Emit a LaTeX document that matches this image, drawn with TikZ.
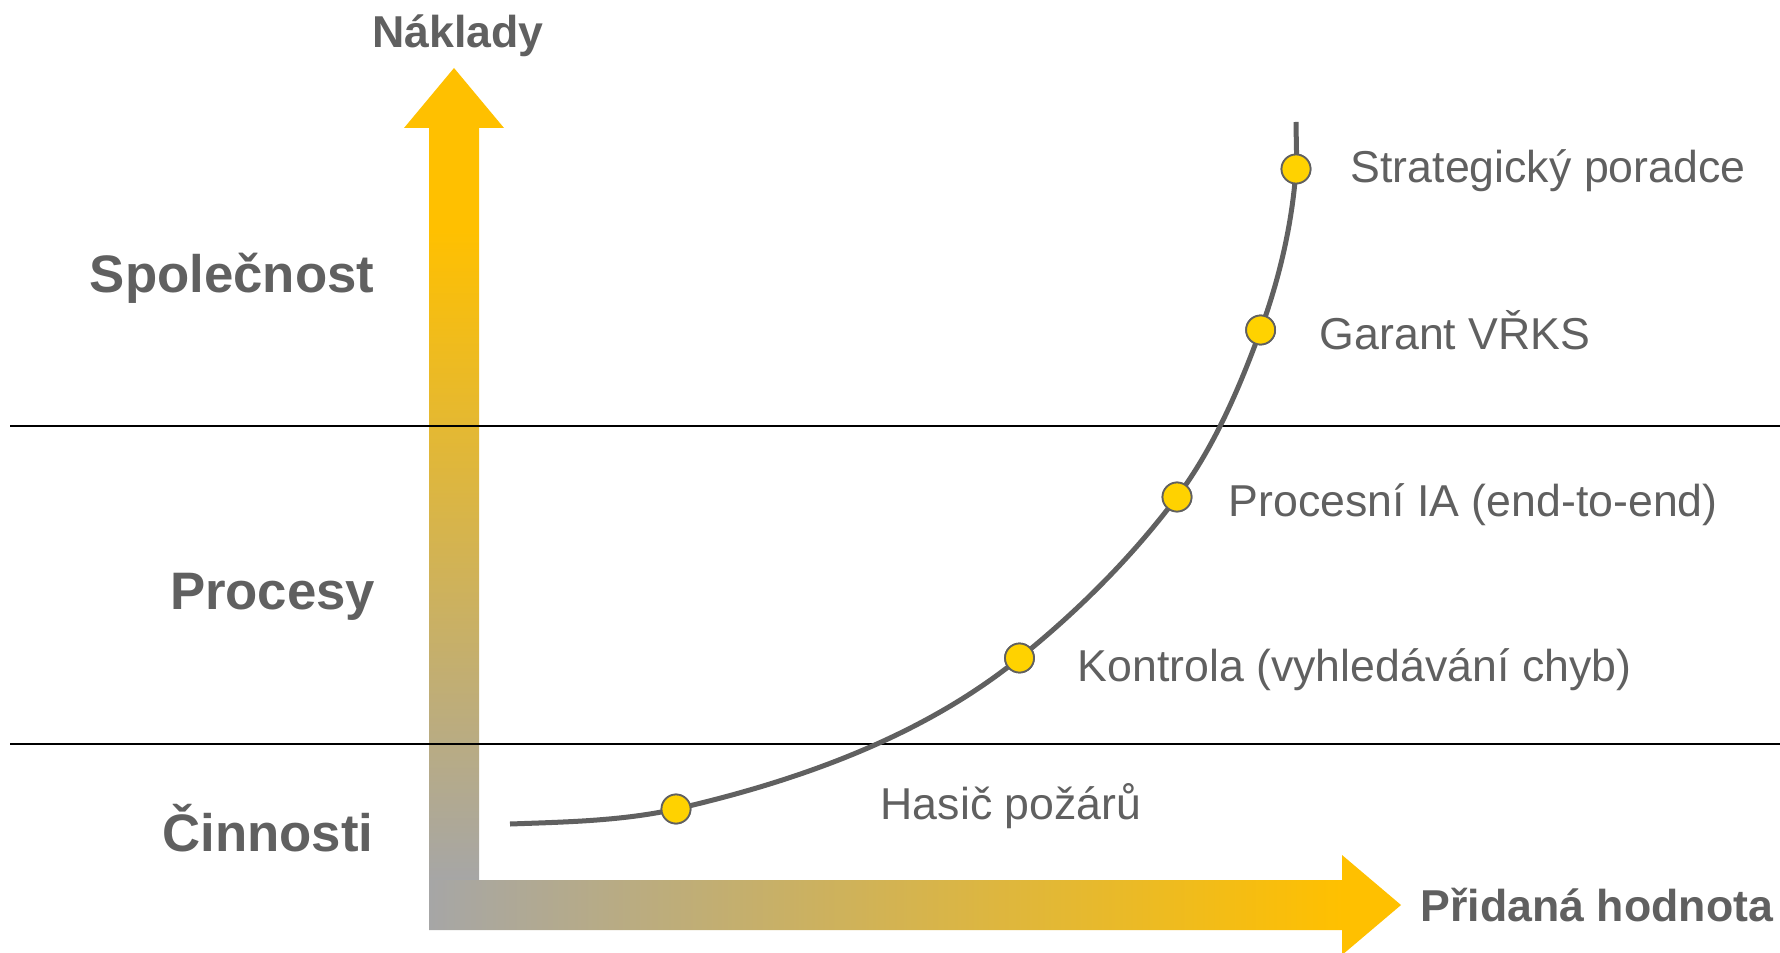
\documentclass[tikz,border=0pt]{standalone}
\usepackage{fontspec}
\setmainfont{Liberation Sans}
\usetikzlibrary{positioning}
\definecolor{axisyellow}{HTML}{FFC000}
\definecolor{axisgray}{HTML}{A6A6A6}
\definecolor{dotyellow}{HTML}{FFD200}
\definecolor{textgray}{HTML}{606060}
\pgfdeclareverticalshading{nakladyshade}{100bp}{color(0bp)=(axisgray); color(25bp)=(axisgray); color(65bp)=(axisyellow); color(100bp)=(axisyellow)}
\pgfdeclarehorizontalshading{hodnotashade}{100bp}{color(0bp)=(axisgray); color(25bp)=(axisgray); color(72bp)=(axisyellow); color(100bp)=(axisyellow)}
\tikzset{
  axislabel/.style={font=\bfseries\fontsize{12.7pt}{15pt}\selectfont, text=textgray, inner sep=0pt},
  levellabel/.style={font=\bfseries\fontsize{15pt}{18pt}\selectfont, text=textgray, inner sep=0pt, anchor=base east},
  rolelabel/.style={font=\fontsize{12.7pt}{15pt}\selectfont, text=textgray, inner sep=0pt, anchor=base west},
  roledot/.style={circle, draw=textgray, line width=0.5pt, fill=dotyellow, minimum size=0.29cm, inner sep=0pt},
  levelline/.style={line width=0.02cm},
  costcurve/.style={draw=textgray, line width=0.05cm},
}
\begin{document}
\begin{tikzpicture}[x=0.01cm, y=-0.01cm]
            \useasboundingbox (0,0) rectangle (1780,952);%

            % Axis Naklady (up)
            \shade [shading=nakladyshade] (429,880) -- (429,128) -- (404,128) -- (454,68) -- (504,128) -- (479,128) -- (479,880) -- cycle;%
            \node [axislabel, anchor=base] (naklady) at (458,48) {Náklady};%

            % Axis Pridana hodnota (right)
            \shade [shading=hodnotashade] (429,880) -- (1342,880) -- (1342,855) -- (1401,905) -- (1342,955) -- (1342,930) -- (429,930) -- cycle;%
            \node [axislabel, anchor=base west] (hodnota) at (1420,921) {Přidaná hodnota};%

            % Level borders
            \draw [levelline] (10,426) -- (1780,426);%
            \draw [levelline] (10,744) -- (1780,744);%

            % Level labels
            \node [levellabel] (spolecnost) at (375,293) {Společnost};%
            \node [levellabel] (procesy) at (376,609) {Procesy};%
            \node [levellabel] (cinnosti) at (374,851) {Činnosti};%

            % Role points on the curve
            \coordinate (curvestart) at (510,824);%
            \coordinate (curvetop) at (1296,122);%
            \node [roledot] (hasic) at (676,809) {};%
            \node [roledot] (kontrola) at (1019.5,658) {};%
            \node [roledot] (procesni) at (1177,497) {};%
            \node [roledot] (garant) at (1260.6,330) {};%
            \node [roledot] (strateg) at (1296,169) {};%

            % Drawing the cost curve
            \draw [costcurve] (curvestart) .. controls (565,822) and (622,821) .. (hasic.center)
              .. controls (798,781) and (922,737) .. (kontrola.center)
              .. controls (1078,611) and (1132,557) .. (procesni.center)
              .. controls (1214,447.5) and (1239.4,388) .. (garant.center)
              .. controls (1279.4,278.3) and (1292.2,223.9) .. (strateg.center)
              .. controls (1297.1,153) and (1296,138) .. (curvetop);%
            \foreach \r in {hasic, kontrola, procesni, garant, strateg}
              \node [roledot] at (\r) {};%

            % Role labels
            \node [rolelabel] (strateglabel) at (1350,183) {Strategický poradce};%
            \node [rolelabel] (garantlabel) at (1319,349) {Garant VŘKS};%
            \node [rolelabel] (procesnilabel) at (1228,516) {Procesní IA (end-to-end)};%
            \node [rolelabel] (kontrolalabel) at (1077,681) {Kontrola (vyhledávání chyb)};%
            \node [rolelabel] (hasiclabel) at (880,819) {Hasič požárů};%
\end{tikzpicture}
\end{document}
